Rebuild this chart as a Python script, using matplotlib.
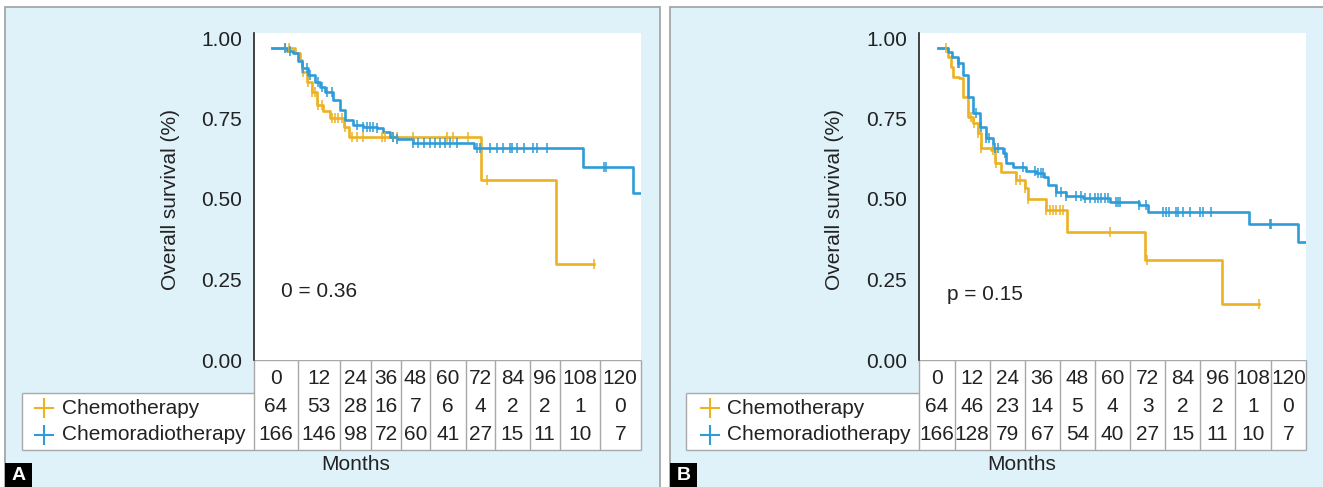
import numpy as np
import matplotlib
matplotlib.use("Agg")
import matplotlib.pyplot as plt
from matplotlib.patches import Rectangle

plt.rcParams['font.family'] = ['Liberation Sans', 'DejaVu Sans']

W, H = 1323, 487
ORANGE = "#EDB223"
BLUE = "#2E9CD8"
PANEL_BG = "#DFF1F9"
GRID = "#A8A8A8"
FS = 15

# ---- data ----
time_labels = [0, 12, 24, 36, 48, 60, 72, 84, 96, 108, 120]
a_chemo_risk = [64, 53, 28, 16, 7, 6, 4, 2, 2, 1, 0]
a_crt_risk = [166, 146, 98, 72, 60, 41, 27, 15, 11, 10, 7]
b_chemo_risk = [64, 46, 23, 14, 5, 4, 3, 2, 2, 1, 0]
b_crt_risk = [166, 128, 79, 67, 54, 40, 27, 15, 11, 10, 7]

# panel A, chemotherapy
a_chemo_t = [0, 8, 9.7, 10.3, 12, 13.8, 15.5, 17.8, 20, 24.9, 26.5, 72, 97.7, 110.7]
a_chemo_s = [0.970, 0.952, 0.932, 0.895, 0.864, 0.833, 0.792, 0.774, 0.751, 0.725,
             0.692, 0.559, 0.298, 0.298]
a_chemo_cens = [4.6, 6.1, 10.9, 12.6, 13.8, 14.9, 16, 17.2, 20.6, 21.8, 22.9, 24.1,
                25.2, 27.5, 29.2, 31.5, 37.8, 39, 41.8, 43, 48.7, 60.2, 62.5, 67.6,
                73.9, 110.7]
# panel A, chemoradiotherapy
a_crt_t = [0, 5.2, 7.4, 9, 10.3, 12.5, 14.9, 16.5, 18.3, 21.2, 23.5, 25.2, 28.1, 31.5,
           36.1, 38.4, 40.7, 43, 48.7, 69.4, 107, 124.2, 126.9]
a_crt_s = [0.970, 0.960, 0.952, 0.930, 0.906, 0.885, 0.864, 0.848, 0.833, 0.807, 0.776,
           0.745, 0.730, 0.725, 0.720, 0.709, 0.693, 0.686, 0.675, 0.657, 0.600, 0.520,
           0.520]
a_crt_cens = [4.6, 6.3, 10.9, 12, 13.2, 16, 17.2, 18.9, 20.6, 29.2, 31.5, 32.7, 33.8,
              35, 36.1, 41.8, 43, 48.7, 50.4, 52.2, 54.5, 56.2, 57.9, 59.6, 61.3, 63.6,
              70.5, 71.7, 75.1, 77.4, 79.7, 82, 82.6, 84.3, 86.6, 90, 91.2, 94.6, 114.3,
              114.9]

# panel B, chemotherapy
b_chemo_t = [0, 3.5, 4.6, 5.2, 7.5, 8.7, 10.4, 12.2, 13.9, 15.1, 18.5, 19.7, 22, 27.2,
             30.1, 31.2, 37.4, 44.8, 72, 98.6, 111.6]
b_chemo_s = [0.970, 0.942, 0.911, 0.880, 0.875, 0.818, 0.756, 0.735, 0.704, 0.657,
             0.652, 0.611, 0.585, 0.559, 0.533, 0.500, 0.466, 0.397, 0.311, 0.174, 0.174]
b_chemo_cens = [2.9, 11.6, 12.7, 13.9, 15.1, 19.1, 20.3, 27.2, 28.4, 30.1, 31.3, 37.6,
                38.8, 39.9, 41.1, 42.3, 43.4, 59.6, 72.7, 111.6]
# panel B, chemoradiotherapy
b_crt_t = [0, 3.5, 5, 6.9, 8.7, 10.4, 12.2, 14.5, 16.8, 19.1, 22.6, 23.7, 26, 30.7,
           34.2, 37, 38.2, 41.1, 44.6, 50.3, 59.6, 70, 72.9, 108, 125, 127.7]
b_crt_s = [0.970, 0.958, 0.942, 0.921, 0.885, 0.818, 0.766, 0.725, 0.689, 0.657, 0.642,
           0.611, 0.600, 0.588, 0.582, 0.569, 0.543, 0.523, 0.509, 0.502, 0.492, 0.481,
           0.461, 0.422, 0.367, 0.367]
b_crt_cens = [7, 7.5, 13.3, 15.1, 16.8, 17.9, 19.7, 20.8, 23.2, 29.5, 33.6, 34.7, 35.9,
              36.5, 41.1, 42.8, 44.6, 48.1, 49.8, 51, 52.7, 54.4, 55.6, 56.7, 57.9, 59,
              61.9, 62.5, 63.1, 70, 72.4, 78.1, 79.3, 80.4, 82.8, 83.3, 85.1, 87.4, 90.9,
              92, 94.9, 115.2, 115.7]

groups = ["Chemotherapy", "Chemoradiotherapy"]

fig = plt.figure(figsize=(W / 100, H / 100), dpi=100)
bg = fig.add_axes([0, 0, 1, 1])
bg.set_xlim(0, W)
bg.set_ylim(H, 0)
bg.axis("off")
bg.set_zorder(0)


def px_rect(x0, y0, x1, y1):
    return [x0 / W, 1 - y1 / H, (x1 - x0) / W, (y1 - y0) / H]


def km(ax, t, s, cens, color):
    t = np.asarray(t)
    s = np.asarray(s)
    ax.step(t, s, where="post", color=color, lw=1.9, zorder=3)
    c = np.asarray(cens)
    idx = np.searchsorted(t, c, side="right") - 1
    ax.plot(c, s[idx], ls="none", marker="|", ms=6.5, mew=1.1, color=color, zorder=4)


def panel(letter, frame_x, ax_box, xlim, col_edges, leg_left, leg_mark_x, leg_text_x,
          curves, risks, ptext, ppos, months_x):
    bg.add_patch(Rectangle((frame_x[0], 7), frame_x[1] - frame_x[0], 500,
                           fc=PANEL_BG, ec="#A6A6A6", lw=1.3))
    x0, y0, x1, y1 = ax_box
    ax = fig.add_axes(px_rect(x0, y0, x1, y1))
    ax.set_zorder(2)
    ax.set_facecolor("white")
    for (t, s, c), col in zip(curves, [ORANGE, BLUE]):
        km(ax, t, s, c, col)
    ax.set_xlim(*xlim)
    ax.set_ylim(0, 1 + 5 / 322)
    ax.set_xticks([])
    ax.set_yticks([0, 0.25, 0.5, 0.75, 1.0])
    ax.set_yticklabels(["0.00", "0.25", "0.50", "0.75", "1.00"])
    ax.tick_params(axis="y", length=0, pad=8.5, labelsize=FS, labelcolor="#222222")
    for side in ["top", "right", "bottom"]:
        ax.spines[side].set_visible(False)
    ax.spines["left"].set_color("#222222")
    ax.spines["left"].set_linewidth(1.2)
    ax.text(ppos[0], ppos[1], ptext, transform=ax.transAxes, fontsize=FS,
            ha="left", va="center", color="#222222")

    # y label
    bg.text(x0 - 84, 200, "Overall survival (%)", rotation=90, ha="center", va="center",
            fontsize=FS, color="#222222")

    # number-at-risk table
    e = col_edges
    top, mid, bot = 360, 393, 450
    bg.fill_between([leg_left, e[0]], mid, bot, color="white", lw=0)
    bg.fill_between([e[0], e[-1]], top, bot, color="white", lw=0)
    bg.hlines(top, e[0], e[-1], color=GRID, lw=1)
    bg.vlines(e, top, bot, color=GRID, lw=1)
    bg.hlines(mid, leg_left, e[0], color=GRID, lw=1)
    bg.vlines(leg_left, mid, bot, color=GRID, lw=1)
    bg.hlines(bot, leg_left, e[-1], color=GRID, lw=1)
    centers = [(e[i] + e[i + 1]) / 2 for i in range(len(e) - 1)]
    for cx, tl, r1, r2 in zip(centers, time_labels, risks[0], risks[1]):
        bg.text(cx, 379, str(tl), ha="center", va="center", fontsize=FS, color="#222222")
        bg.text(cx, 406, str(r1), ha="center", va="center", fontsize=FS, color="#222222")
        bg.text(cx, 434, str(r2), ha="center", va="center", fontsize=FS, color="#222222")
    for yy, name, col in zip([408, 435], groups, [ORANGE, BLUE]):
        bg.plot(leg_mark_x, yy, marker="+", ms=15, mew=1.5, color=col)
        bg.text(leg_text_x, yy, name, ha="left", va="center", fontsize=FS, color="#222222")
    bg.text(months_x, 465, "Months", ha="center", va="center", fontsize=FS, color="#222222")

    # panel letter
    lx = frame_x[0]
    bg.add_patch(Rectangle((lx, 463), 27, 26, fc="black", ec="none"))
    bg.text(lx + 13.5, 476, letter, ha="center", va="center", fontsize=14,
            fontweight="bold", color="white")


panel("A", (5, 660), (254, 33, 640.7, 360), (-6.1, 126.9),
      [254, 298, 340, 371.2, 400.7, 430.1, 465.9, 495.4, 529.5, 559.8, 599.7, 640.7],
      22, 44, 62,
      [(a_chemo_t, a_chemo_s, a_chemo_cens), (a_crt_t, a_crt_s, a_crt_cens)],
      [a_chemo_risk, a_crt_risk], "0 = 0.36", (0.070, 0.211), 355.6)

panel("B", (670, 1335), (918.8, 33, 1305.7, 360), (-6.6, 127.7),
      [918.8, 954.7, 989.8, 1024.5, 1060, 1094.7, 1130.2, 1165.3, 1200.4, 1235, 1271,
       1305.7],
      686, 710, 727,
      [(b_chemo_t, b_chemo_s, b_chemo_cens), (b_crt_t, b_crt_s, b_crt_cens)],
      [b_chemo_risk, b_crt_risk], "p = 0.15", (0.074, 0.199), 1021.5)

fig.savefig("out.png", dpi=100)
